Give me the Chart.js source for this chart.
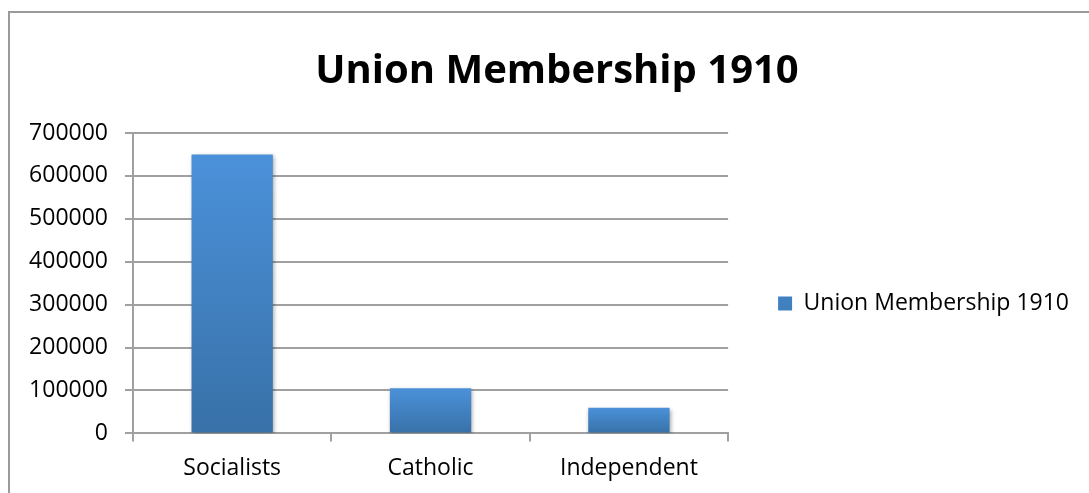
<!DOCTYPE html>
<html>
<head>
<meta charset="utf-8">
<script src="https://cdn.jsdelivr.net/npm/chart.js@4"></script>
<style>
  html, body { margin: 0; padding: 0; background: #fff; }
  #wrap { position: relative; width: 1089px; height: 493px; overflow: hidden; }
  #frame { position: absolute; left: 8px; top: 11px; width: 1200px; height: 600px;
           border-left: 2px solid #9a9a9a; border-top: 2px solid #9a9a9a; }
  canvas { position: absolute; left: 0; top: 0; }
</style>
</head>
<body>
<div id="wrap">
  <div id="frame"></div>
  <canvas id="c" width="1089" height="493"></canvas>
</div>
<script>
const chartTitle = 'Union Membership 1910';
const categories = ['Socialists', 'Catholic', 'Independent'];
const seriesName = 'Union Membership 1910';
const membership = [650000, 105000, 60000];
const yTickValues = [0, 100000, 200000, 300000, 400000, 500000, 600000, 700000];

const FONT = "'Open Sans', 'DejaVu Sans', sans-serif";
const GRID = '#a0a0a0';
const PAD_L = 25, PAD_R = 10;
const LEGEND_SHIFT_Y = 51;
const TITLE_SHIFT_X = 5;

function barFill(ctx) {
  const chart = ctx.chart;
  if (ctx.type !== 'data' || !chart.chartArea || !chart.scales.y) return '#4585c9';
  const y = chart.scales.y;
  const top = y.getPixelForValue(ctx.parsed.y);
  const bottom = y.getPixelForValue(0);
  const g = chart.ctx.createLinearGradient(0, top, 0, bottom);
  g.addColorStop(0, '#4b91da');
  g.addColorStop(1, '#3871a8');
  return g;
}

const shadowPlugin = {
  id: 'barShadow',
  beforeDatasetsDraw(chart) {
    const c = chart.ctx;
    c.save();
    c.shadowColor = 'rgba(0,0,0,0.35)';
    c.shadowBlur = 4;
    c.shadowOffsetX = 1;
    c.shadowOffsetY = 2;
  },
  afterDatasetsDraw(chart) { chart.ctx.restore(); }
};

const boxShift = {
  id: 'boxShift',
  afterLayout(chart) {
    if (chart.legend) {
      chart.legend.top += LEGEND_SHIFT_Y;
      chart.legend.bottom += LEGEND_SHIFT_Y;
    }
    if (chart.titleBlock) {
      chart.titleBlock.left += TITLE_SHIFT_X;
      chart.titleBlock.right += TITLE_SHIFT_X;
    }
  }
};

new Chart(document.getElementById('c'), {
  type: 'bar',
  data: {
    labels: categories,
    datasets: [{
      label: seriesName,
      data: membership,
      backgroundColor: barFill,
      borderWidth: 0,
      categoryPercentage: 1,
      barPercentage: 0.41
    }]
  },
  options: {
    responsive: false,
    animation: false,
    devicePixelRatio: 1,
    layout: { padding: { left: PAD_L, right: PAD_R, top: 10, bottom: -2 } },
    plugins: {
      title: {
        display: true,
        text: chartTitle,
        color: '#000',
        font: { family: FONT, size: 40, weight: 'bold' },
        padding: { top: 38, bottom: 37 }
      },
      legend: {
        display: true,
        position: 'right',
        maxWidth: 420,
        labels: {
          color: '#000',
          font: { family: FONT, size: 23 },
          boxWidth: 14,
          boxHeight: 14,
          padding: 10
        }
      },
      tooltip: { enabled: false }
    },
    scales: {
      x: {
        grid: { display: true, drawOnChartArea: false, drawTicks: true, tickLength: 8, color: GRID, lineWidth: 2, offset: true },
        border: { display: true, color: GRID, width: 2 },
        ticks: { color: '#000', font: { family: FONT, size: 23 }, padding: 13, maxRotation: 0 }
      },
      y: {
        position: 'left',
        min: 0,
        max: 700000,
        afterBuildTicks(axis) { axis.ticks = yTickValues.map(v => ({ value: v })); },
        afterFit(scale) { scale.width = 133 - PAD_L; },
        grid: { color: GRID, lineWidth: 2, tickLength: 8, drawTicks: true },
        border: { display: true, color: GRID, width: 2 },
        ticks: { color: '#000', font: { family: FONT, size: 23 }, padding: 17, callback: v => String(v) }
      },
      gap: {
        position: 'right',
        display: true,
        grid: { display: false },
        border: { display: false },
        ticks: { display: false },
        afterFit(scale) { scale.width = 40; }
      }
    }
  },
  plugins: [shadowPlugin, boxShift]
});
</script>
</body>
</html>
